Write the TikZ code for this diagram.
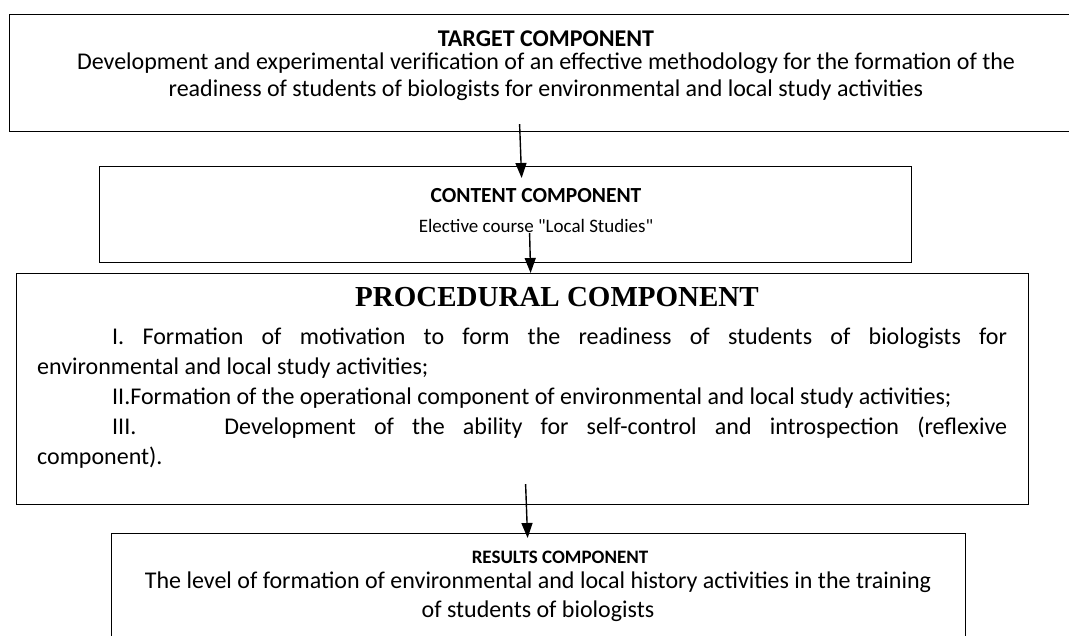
\documentclass[tikz,border=0pt]{standalone}
\usepackage{fontspec}
\setmainfont{Carlito}[Ligatures=TeXOff]
\newfontfamily\procfont{Liberation Serif}
\usetikzlibrary{arrows.meta,positioning,calc}

\begin{document}
\begin{tikzpicture}[x=1pt,y=-1pt,
    box/.style={draw, line width=1.2pt, inner sep=0pt, anchor=north west},
    link/.style={line width=1.4pt, -{Triangle[length=15pt,width=11pt]}},
    boxtext/.style={align=center, anchor=north, inner sep=0pt}]
  \useasboundingbox (0,0) rectangle (1069,636);

  % the four component boxes
  \node[box, minimum width=1068pt, minimum height=117pt] (target) at (9,14) {};
  \node[box, minimum width=812pt, minimum height=96pt] (content) at (99,166) {};
  \node[box, minimum width=1012pt, minimum height=231pt] (proc) at (16,273) {};
  \node[box, minimum width=854pt, minimum height=140pt] (results) at (111,533) {};

  % texts
  \node[boxtext, font=\fontsize{24}{27}\selectfont] (targettext) at (546,31)
    {\textbf{TARGET COMPONENT}\\[-4pt]
     Development and experimental verification of an effective methodology for the formation of the\\
     readiness of students of biologists for environmental and local study activities};
  \node[boxtext, font=\fontsize{19}{30}\selectfont] (contenttext) at (536,188)
    {\fontsize{21.5}{30}\selectfont\textbf{CONTENT COMPONENT}\\
     Elective course "Local Studies"};
  \node[anchor=north, inner sep=0pt, font=\procfont\bfseries\fontsize{29}{30}\selectfont] (prochead) at (557,287)
    {PROCEDURAL COMPONENT};
  \node[anchor=north west, inner sep=0pt, font=\fontsize{24}{30}\selectfont] (proctext) at (37,328)
    {\parbox{970pt}{\setlength{\parindent}{75pt}\frenchspacing
     I. Formation of motivation to form the readiness of students of biologists for\linebreak
     environmental and local study activities;\par
     II.Formation of the operational component of environmental and local study activities;\par
     III.\hspace{88pt}Development of the ability for self-control and introspection (reflexive\linebreak
     component).}};
  \node[boxtext, font=\fontsize{24}{29}\selectfont] (resultstext) at (538,551)
    {\makebox[0pt]{\hspace{44pt}\fontsize{19}{24}\selectfont\textbf{RESULTS COMPONENT}}\\[-4pt]
     The level of formation of environmental and local history activities in the training\\
     of students of biologists};

  % arrows
  \draw[link] ([xshift=-24pt,yshift=8pt]target.south) -- ([xshift=16pt,yshift=-12pt]content.north);
  \draw[link] ([xshift=24pt,yshift=30pt]content.south) -- ([xshift=8pt]proc.north);
  \draw[link] ([xshift=3pt,yshift=21pt]proc.south) -- ([xshift=-11pt,yshift=-5pt]results.north);
\end{tikzpicture}
\end{document}
